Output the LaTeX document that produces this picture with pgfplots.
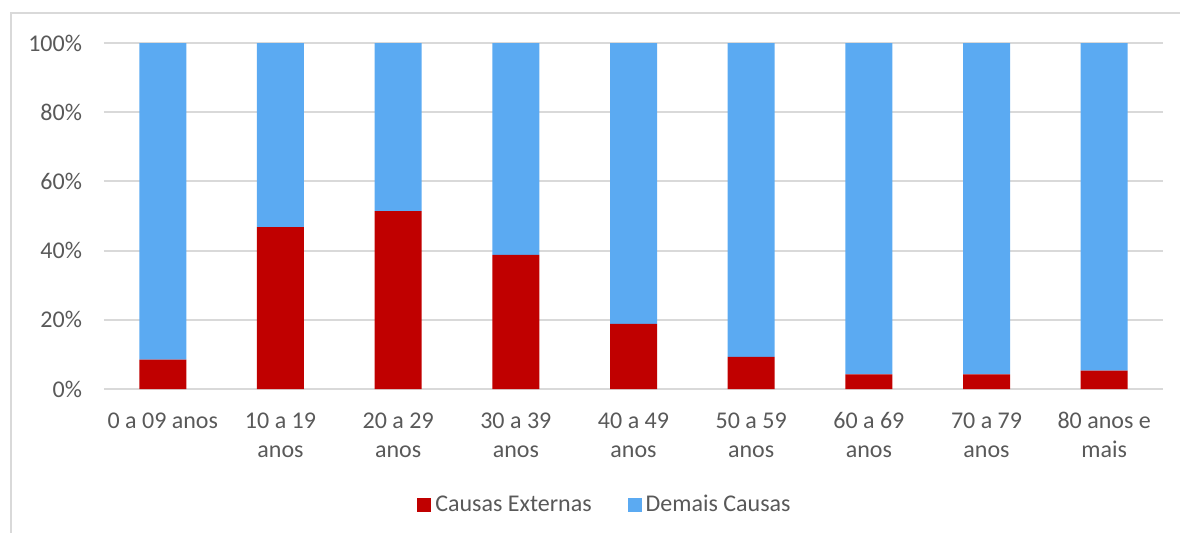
\documentclass[border=0pt]{standalone}
\usepackage{fontspec}
\setmainfont{Carlito}
\usepackage{pgfplots}
\pgfplotsset{compat=1.18}
\definecolor{extred}{HTML}{C00000}
\definecolor{demblue}{HTML}{5BAAF2}
\definecolor{gridgray}{HTML}{D9D9D9}
\definecolor{txtgray}{HTML}{595959}
\begin{document}
\begin{tikzpicture}
\useasboundingbox (-52pt,-71.5pt) rectangle (538pt,194.5pt);
\draw[gridgray, line width=1pt] (-46.5pt,-72pt) -- (-46.5pt,188pt) -- (539pt,188pt);
\begin{axis}[
  at={(0pt,0pt)}, anchor=south west,
  scale only axis,
  width=529.5pt, height=173pt,
  ybar stacked,
  bar width=23.5pt,
  xmin=-0.5, xmax=8.5,
  ymin=0, ymax=100,
  xtick={0,...,8},
  xticklabels={{\strut 0 a 09 anos},{\strut 10 a 19\\anos},{\strut 20 a 29\\anos},{\strut 30 a 39\\anos},{\strut 40 a 49\\anos},{\strut 50 a 59\\anos},{\strut 60 a 69\\anos},{\strut 70 a 79\\anos},{\strut 80 anos e\\mais}},
  ytick={0,20,40,60,80,100},
  yticklabels={0\%,20\%,40\%,60\%,80\%,100\%},
  major tick length=0pt,
  axis line style={draw=none},
  ymajorgrids,
  grid style={gridgray, line width=1pt},
  tick label style={font=\fontsize{12pt}{14.5pt}\selectfont, text=txtgray},
  xticklabel style={align=center, anchor=north, yshift=-6pt},
  yticklabel style={anchor=east, xshift=-7.5pt},
  legend columns=2,
  legend style={draw=none, at={(0.474,-0.335)}, anchor=center,
    font=\fontsize{12pt}{14.5pt}\selectfont, text=txtgray,
    /tikz/every even column/.append style={column sep=16pt}},
  legend image code/.code={\fill[#1] (0pt,-3.5pt) rectangle (7pt,3.5pt);},
]
\addplot[fill=extred, draw=none] coordinates {(0,8.5) (1,46.8) (2,51.4) (3,38.8) (4,18.8) (5,9.3) (6,4.2) (7,4.2) (8,5.3)};
\addplot[fill=demblue, draw=none] coordinates {(0,91.5) (1,53.2) (2,48.6) (3,61.2) (4,81.2) (5,90.7) (6,95.8) (7,95.8) (8,94.7)};
\legend{Causas Externas, Demais Causas}
\end{axis}
\end{tikzpicture}
\end{document}
